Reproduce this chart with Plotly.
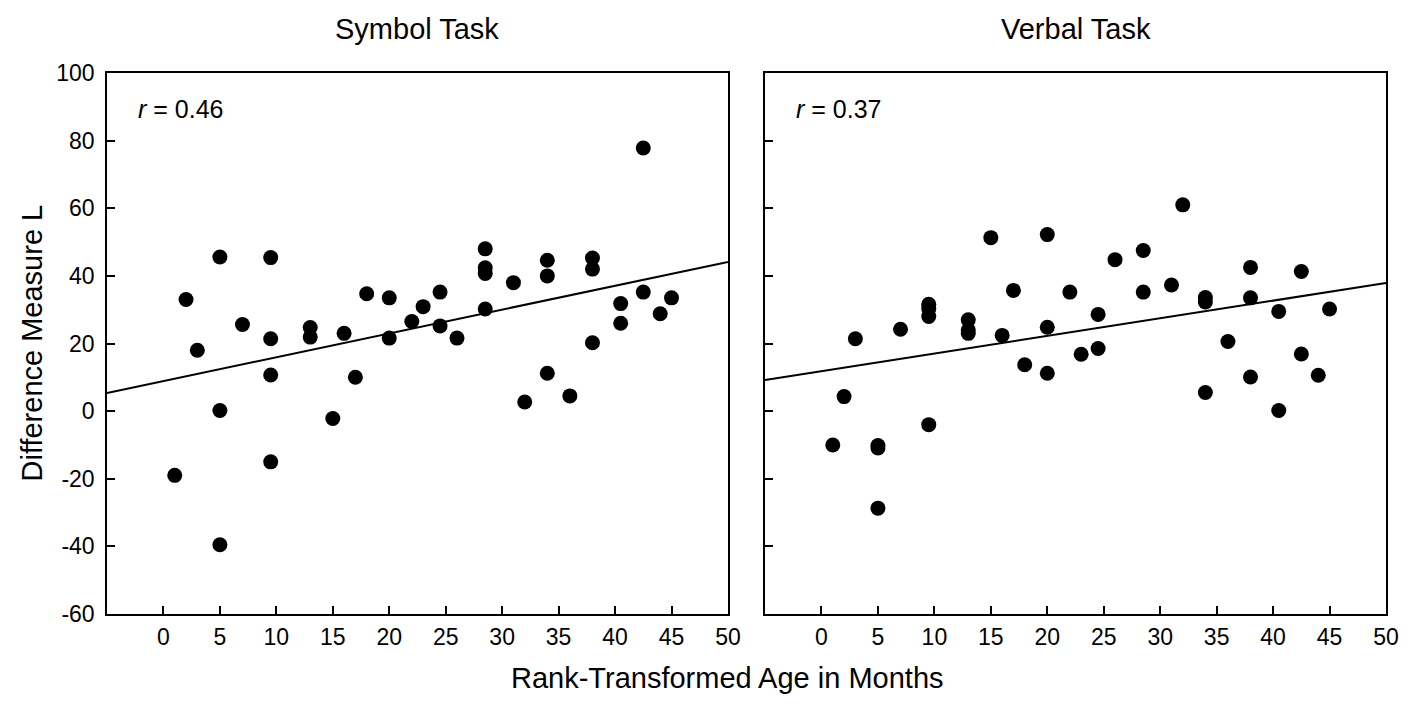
import numpy as np
import plotly.graph_objects as go
from plotly.subplots import make_subplots

# Symbol task: rank-transformed age vs difference measure L
symbol_age = [1, 2, 3, 5, 5, 5, 7, 9.5, 9.5, 9.5, 9.5, 13, 13, 15, 16, 17, 18, 20, 20,
              22, 23, 24.5, 24.5, 26, 28.5, 28.5, 28.5, 28.5, 31, 32, 34, 34, 34, 36,
              38, 38, 38, 40.5, 40.5, 42.5, 42.5, 44, 45]
symbol_diff = [-19, 33, 18, 45.6, 0.2, -39.5, 25.6, 45.4, 21.4, 10.7, -15, 24.7, 21.9,
               -2.2, 23, 10, 34.7, 33.5, 21.6, 26.5, 30.9, 35.2, 25.2, 21.6, 48, 42.4,
               40.7, 30.2, 38, 2.7, 44.6, 40, 11.2, 4.5, 45.3, 42, 20.2, 31.8, 26,
               77.8, 35.2, 28.8, 33.5]

# Verbal task
verbal_age = [1, 2, 3, 5, 5, 5, 7, 9.5, 9.5, 9.5, 9.5, 13, 13, 13, 15, 16, 17, 18, 20,
              20, 20, 22, 23, 24.5, 24.5, 26, 28.5, 28.5, 31, 32, 34, 34, 34, 36, 38,
              38, 38, 40.5, 40.5, 42.5, 42.5, 44, 45]
verbal_diff = [-10, 4.3, 21.4, -10.2, -10.9, -28.7, 24.2, 31.6, 30.3, 28, -4, 27, 24,
               23, 51.3, 22.4, 35.7, 13.7, 52.2, 24.8, 11.2, 35.2, 16.8, 28.6, 18.5,
               44.8, 47.5, 35.2, 37.3, 61, 33.6, 32.3, 5.5, 20.6, 42.5, 33.5, 10.1,
               29.5, 0.2, 41.3, 16.9, 10.6, 30.2]

# fitted regression lines (intercept, slope)
symbol_fit = (8.9, 0.704)
verbal_fit = (11.8, 0.522)
symbol_r = "0.46"
verbal_r = "0.37"

panel_titles = ["Symbol Task", "Verbal Task"]
x_ticks = list(range(0, 55, 5))
y_ticks = list(range(-60, 120, 20))
y_tick_labels = [str(v) for v in y_ticks]  # plain hyphen for negatives
X_RANGE = [-5, 50]
Y_RANGE = [-60, 100]

FONT = "Arial, Liberation Sans, sans-serif"

fig = make_subplots(rows=1, cols=2, horizontal_spacing=0.029)

panels = [(symbol_age, symbol_diff, symbol_fit, symbol_r),
          (verbal_age, verbal_diff, verbal_fit, verbal_r)]

for i, (ages, diffs, (b0, b1), r_text) in enumerate(panels, start=1):
    fig.add_trace(go.Scatter(x=ages, y=diffs, mode="markers",
                             marker=dict(size=15, color="black"),
                             showlegend=False), row=1, col=i)
    fx = np.array(X_RANGE, dtype=float)
    fig.add_trace(go.Scatter(x=fx, y=b0 + b1 * fx, mode="lines",
                             line=dict(color="black", width=2),
                             showlegend=False), row=1, col=i)
    xref = "x" if i == 1 else "x2"
    yref = "y" if i == 1 else "y2"
    fig.add_annotation(x=-2.4, y=89.5, xref=xref, yref=yref, xanchor="left",
                       yanchor="middle", showarrow=False,
                       text=f"<i>r</i> = {r_text}",
                       font=dict(family=FONT, size=25, color="black"))
    fig.add_annotation(x=0.5, y=1.081, xref=f"{xref} domain", yref=f"{yref} domain",
                       xanchor="center", yanchor="middle", showarrow=False,
                       text=panel_titles[i - 1],
                       font=dict(family=FONT, size=29, color="black"))

axis_style = dict(showline=True, linecolor="black", linewidth=1.5, mirror=True,
                  ticks="inside", ticklen=8, tickwidth=1.5, tickcolor="black",
                  showgrid=False, zeroline=False,
                  tickfont=dict(family=FONT, size=23, color="black"))

fig.update_xaxes(range=X_RANGE, tickvals=x_ticks, ticklabelstandoff=2, **axis_style)
fig.update_yaxes(range=Y_RANGE, tickvals=y_ticks, ticktext=y_tick_labels,
                 ticklabelstandoff=6, **axis_style)
fig.update_yaxes(showticklabels=False, row=1, col=2)

fig.add_annotation(x=0.4848, y=0, xref="paper", yref="paper", yshift=-64,
                   xanchor="center", yanchor="middle", showarrow=False,
                   text="Rank-Transformed Age in Months",
                   font=dict(family=FONT, size=29, color="black"))
fig.add_annotation(x=0, y=0.5, xref="paper", yref="paper", xshift=-76,
                   xanchor="center", yanchor="middle", showarrow=False,
                   textangle=-90, text="Difference Measure L",
                   font=dict(family=FONT, size=29, color="black"))

# page body has an 8px margin, so offsets are shifted accordingly
fig.update_layout(width=1418, height=704,
                  margin=dict(l=99, r=40, t=65, b=98),
                  plot_bgcolor="white", paper_bgcolor="white",
                  font=dict(family=FONT, color="black"))

fig.write_html("out.html")
